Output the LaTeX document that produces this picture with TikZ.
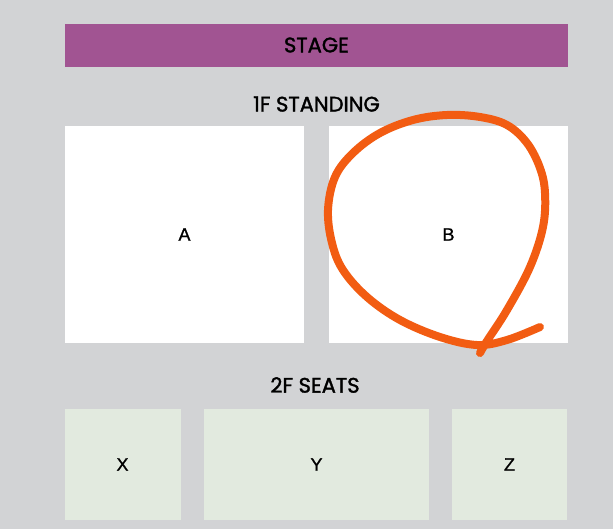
\documentclass[tikz,border=0pt]{standalone}
\usepackage{fontspec}
\newfontfamily\headfont[FakeBold=1.6]{Poppins}
\newfontfamily\seatfont[FakeBold=1]{Liberation Sans}
\newlength{\du}
\setlength{\du}{1pt}
\definecolor{hallgray}{RGB}{210,211,213}
\definecolor{stagepurple}{RGB}{161,84,146}
\definecolor{seatgreen}{RGB}{226,234,223}
\definecolor{markorange}{RGB}{242,92,18}
\tikzset{
  area/.style={inner sep=0pt, outer sep=0pt, fill=white},
  seats/.style={area, fill=seatgreen},
  heading/.style={inner sep=0pt, font=\headfont\fontsize{21}{21}\selectfont},
  seclabel/.style={inner sep=0pt, font=\seatfont\fontsize{18}{18}\selectfont},
}

\begin{document}
\begin{tikzpicture}[x=\du,y=-\du]
\useasboundingbox (0,0) rectangle (613,529);
\fill[hallgray] (0,0) rectangle (613,529);
% stage
\node[area, fill=stagepurple, minimum width=503\du, minimum height=43\du] (stage) at (316.5,45.5) {};
\node[heading] (stagetxt) at (316.5,45) {STAGE};
% 1F
\node[heading] (floorone) at (316.5,104) {1F STANDING};
\node[area, minimum width=239\du, minimum height=217\du] (secA) at (184.5,234.5) {};
\node[seclabel] at (secA) {A};
\node[area, minimum width=239\du, minimum height=217\du] (secB) at (448.5,234.5) {};
\node[seclabel] at (secB) {B};
% 2F
\node[heading] (floortwo) at (315,385) {2F SEATS};
\node[seats, minimum width=116\du, minimum height=111\du] (secX) at (122.5,464.5) {};
\node[seclabel] at (secX) {X};
\node[seats, minimum width=225\du, minimum height=111\du] (secY) at (316.5,464.5) {};
\node[seclabel] at (secY) {Y};
\node[seats, minimum width=115\du, minimum height=111\du] (secZ) at (509.5,464.5) {};
\node[seclabel] at (secZ) {Z};
% hand drawn circle round B
\draw[markorange, line width=8\du, line cap=round, line join=round]
  plot[smooth, tension=0.6] coordinates {(480,353) (487,341) (507,310) (530,267)
  (543,227) (545,193) (540,168) (527,143) (507,125) (480,117) (447,115) (413,120)
  (380,133) (353,153) (335,177) (328,210) (332,243) (343,270) (367,297) (400,320)
  (440,337) (477,345) (507,340) (540,327)};
\end{tikzpicture}
\end{document}
